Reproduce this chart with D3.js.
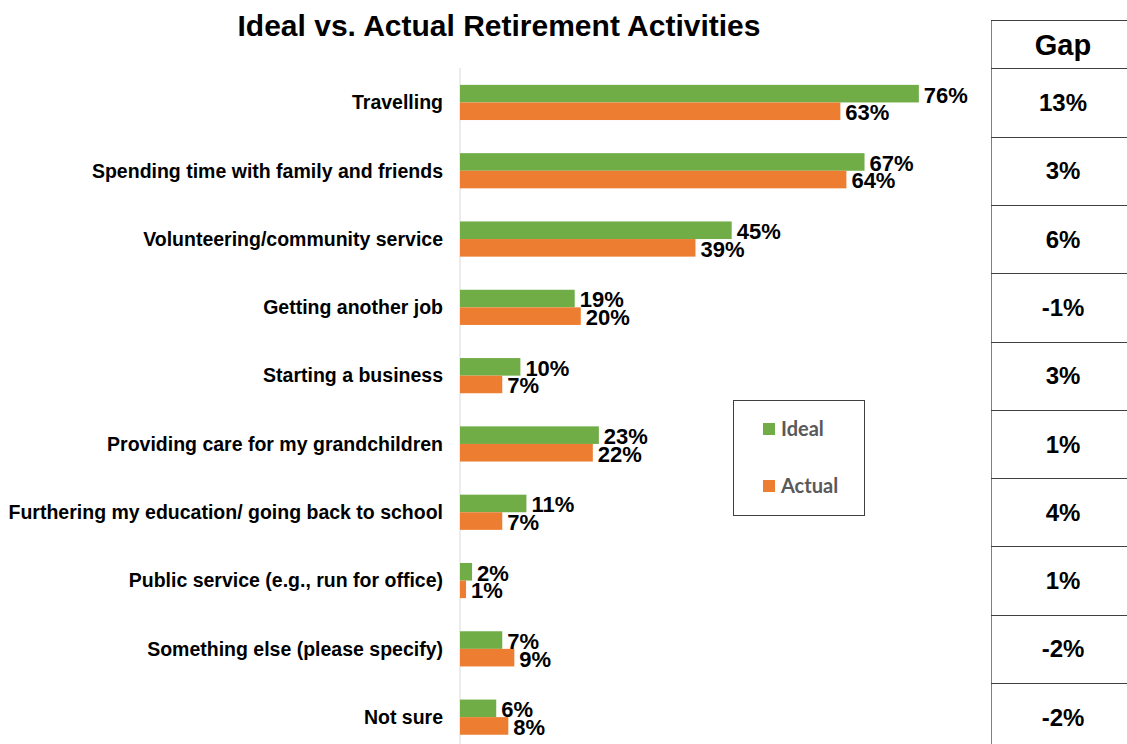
<!DOCTYPE html>
<html>
<head>
<meta charset="utf-8">
<script src="https://cdn.jsdelivr.net/npm/d3@7"></script>
<style>
  body { margin: 0; background: #fff; }
  svg { display: block; font-family: "Liberation Sans", Arial, sans-serif; }
</style>
</head>
<body>
<svg id="chart"></svg>
<script>
const categories = [
    "Travelling",
    "Spending time with family and friends",
    "Volunteering/community service",
    "Getting another job",
    "Starting a business",
    "Providing care for my grandchildren",
    "Furthering my education/ going back to school",
    "Public service (e.g., run for office)",
    "Something else (please specify)",
    "Not sure"
];
const ideal = [76, 67, 45, 19, 10, 23, 11, 2, 7, 6];
const actual = [63, 64, 39, 20, 7, 22, 7, 1, 9, 8];
const gaps = ["13%", "3%", "6%", "-1%", "3%", "1%", "4%", "1%", "-2%", "-2%"];
const seriesNames = ["Ideal", "Actual"];

const width = 1127;
const height = 744;
const green = "#70AD47";
const orange = "#ED7D31";

const svg = d3.select("#chart")
    .attr("width", width)
    .attr("height", height);

const x = d3.scaleLinear()
    .domain([0, 80])
    .range([460, 943]);

const y = d3.scaleBand()
    .domain(categories)
    .range([68.3, 68.3 + 68.3 * 10])
    .paddingInner(0.485)
    .paddingOuter(0.2425);

const ySub = d3.scaleBand()
    .domain(seriesNames)
    .range([0, y.bandwidth()]);

let rows = categories.map((c, i) => ({
    cat: c,
    values: [
        { name: "Ideal", v: ideal[i] },
        { name: "Actual", v: actual[i] }
    ]
}));

// title
svg.append("text")
    .attr("x", 499)
    .attr("y", 36)
    .attr("text-anchor", "middle")
    .attr("font-size", "30px")
    .attr("font-weight", "bold")
    .text("Ideal vs. Actual Retirement Activities");

// axis line
svg.append("line")
    .attr("x1", x(0)).attr("x2", x(0))
    .attr("y1", 68).attr("y2", height)
    .attr("stroke", "#d9d9d9")
    .attr("stroke-width", 1);

// category labels
svg.append("g")
    .selectAll("text")
    .data(categories)
    .enter().append("text")
    .attr("x", 443)
    .attr("y", d => y(d) + y.bandwidth() / 2)
    .attr("dy", "0.35em")
    .attr("text-anchor", "end")
    .attr("font-size", "19.5px")
    .attr("font-weight", "bold")
    .text(d => d);

// bars
let groups = svg.append("g")
    .selectAll("g")
    .data(rows)
    .enter().append("g")
    .attr("transform", d => `translate(0,${y(d.cat)})`);

groups.selectAll("rect")
    .data(d => d.values)
    .enter().append("rect")
    .attr("x", x(0))
    .attr("y", d => ySub(d.name))
    .attr("width", d => x(d.v) - x(0))
    .attr("height", ySub.bandwidth())
    .attr("fill", d => d.name == "Ideal" ? green : orange);

groups.selectAll("text")
    .data(d => d.values)
    .enter().append("text")
    .attr("x", d => x(d.v) + 5)
    .attr("y", d => ySub(d.name) + ySub.bandwidth() / 2 + (d.name == "Ideal" ? 1 : 1))
    .attr("dy", "0.36em")
    .attr("font-size", "22px")
    .attr("font-weight", "bold")
    .text(d => d.v + "%");

// legend
const legend = svg.append("g");
legend.append("rect")
    .attr("x", 733.5).attr("y", 400.5)
    .attr("width", 131).attr("height", 115)
    .attr("fill", "#fff")
    .attr("stroke", "#404040")
    .attr("stroke-width", 1);

seriesNames.forEach((name, i) => {
    let ly = 429 + i * 57;
    legend.append("rect")
        .attr("x", 763).attr("y", ly - 6)
        .attr("width", 12).attr("height", 12)
        .attr("fill", i == 0 ? green : orange);
    legend.append("text")
        .attr("x", 781).attr("y", ly)
        .attr("dy", "0.35em")
        .attr("font-family", "Lato, 'Open Sans', sans-serif")
        .attr("font-size", "20px")
        .attr("font-weight", "bold")
        .attr("fill", "#595959")
        .text(name);
});

// gap table
const table = svg.append("g");
table.append("line")
    .attr("x1", 991.5).attr("x2", 991.5)
    .attr("y1", 20).attr("y2", height)
    .attr("stroke", "#7f7f7f");
table.append("line")
    .attr("x1", 991).attr("x2", width)
    .attr("y1", 20.5).attr("y2", 20.5)
    .attr("stroke", "#404040");
table.append("text")
    .attr("x", 1063).attr("y", 45)
    .attr("dy", "0.36em")
    .attr("text-anchor", "middle")
    .attr("font-size", "29px")
    .attr("font-weight", "bold")
    .text("Gap");

table.selectAll("line.row")
    .data(categories)
    .enter().append("line")
    .attr("class", "row")
    .attr("x1", 991).attr("x2", width)
    .attr("y1", d => Math.round(y(d) - y.step() * y.paddingOuter()) + 0.5)
    .attr("y2", d => Math.round(y(d) - y.step() * y.paddingOuter()) + 0.5)
    .attr("stroke", "#404040");

table.selectAll("text.gap")
    .data(categories)
    .enter().append("text")
    .attr("class", "gap")
    .attr("x", 1063)
    .attr("y", d => y(d) + y.bandwidth() / 2)
    .attr("dy", "0.36em")
    .attr("text-anchor", "middle")
    .attr("font-size", "24px")
    .attr("font-weight", "bold")
    .text((d, i) => gaps[i]);
</script>
</body>
</html>
